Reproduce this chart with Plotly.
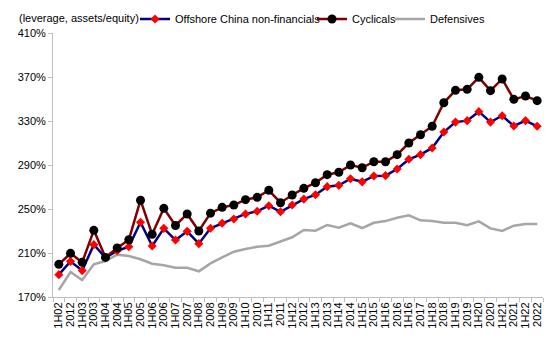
import plotly.graph_objects as go

labels = ["1H02","2012","1H03","2003","1H04","2004","1H05","2005","1H06","2006",
          "1H07","2007","1H08","2008","1H09","2009","1H10","2010","1H11","2011",
          "1H12","2012","1H13","2013","1H14","2014","1H15","2015","1H16","2016",
          "1H16","2017","1H18","2018","1H19","2019","1H20","2020","1H21","2021",
          "1H22","2022"]

offshore = [190.3, 202.4, 194.0, 217.6, 205.7, 212.0, 215.7, 238.0, 216.4, 232.4,
            221.8, 229.7, 218.5, 232.5, 237.0, 240.9, 245.5, 247.9, 253.0, 247.5,
            253.6, 259.0, 263.0, 270.3, 271.5, 277.5, 274.7, 280.0, 280.3, 286.4,
            295.2, 299.4, 305.5, 320.0, 329.0, 330.3, 338.5, 329.0, 334.8, 325.5,
            330.3, 325.2]

cyclicals = [199.7, 209.7, 201.5, 230.6, 206.0, 214.5, 222.0, 258.0, 227.0, 250.6,
             235.0, 245.5, 230.0, 246.2, 251.5, 253.6, 258.5, 260.6, 267.0, 255.7,
             262.7, 268.8, 273.9, 281.2, 283.4, 290.0, 287.5, 293.0, 293.0, 299.4,
             310.0, 317.5, 325.2, 346.6, 357.9, 358.8, 369.7, 357.6, 368.2, 349.7,
             352.7, 348.5]

defensives = [176.4, 192.7, 185.5, 199.7, 202.7, 208.5, 207.3, 204.3, 200.3, 198.8,
              196.6, 196.6, 193.4, 200.5, 206.0, 211.2, 213.6, 215.7, 216.6, 220.3,
              224.3, 231.0, 230.3, 235.5, 233.0, 237.0, 232.7, 237.5, 239.0, 242.0,
              244.2, 239.7, 239.0, 237.5, 237.5, 235.2, 238.8, 232.4, 230.0, 234.8,
              236.4, 236.4]

y_ticks = [170, 210, 250, 290, 330, 370, 410]
y_ticktext = [f"{v}%" for v in y_ticks]

x = list(range(len(labels)))
FONT = "Liberation Sans, Arial, sans-serif"

fig = go.Figure()
fig.add_trace(go.Scatter(
    x=x, y=defensives, name="Defensives", mode="lines",
    line=dict(color="#A6A6A6", width=2.5), legend="legend3"))
fig.add_trace(go.Scatter(
    x=x, y=offshore, name="Offshore China non-financials", mode="lines+markers",
    line=dict(color="#000080", width=2.5),
    marker=dict(symbol="diamond", size=7, color="#FF0000"), legend="legend"))
fig.add_trace(go.Scatter(
    x=x, y=cyclicals, name="Cyclicals", mode="lines+markers",
    line=dict(color="#800000", width=2.5),
    marker=dict(symbol="circle", size=9, color="#000000"), legend="legend2"))

leg_common = dict(orientation="h", xref="container", yref="container",
                  xanchor="left", yanchor="middle", bgcolor="rgba(0,0,0,0)",
                  font=dict(family=FONT, size=11, color="#000000"),
                  itemwidth=30)
fig.update_layout(
    legend=dict(x=135/550, y=1 - 19/356, **leg_common),
    legend2=dict(x=312/550, y=1 - 19/356, **leg_common),
    legend3=dict(x=390/550, y=1 - 19/356, **leg_common),
)

fig.add_annotation(text="(leverage, assets/equity)", xref="paper", yref="paper",
                   x=-36/490, y=1 + 15/264, xanchor="left", yanchor="middle",
                   showarrow=False, font=dict(family=FONT, size=11, color="#000000"))

fig.update_layout(
    width=550, height=356,
    margin=dict(l=53, r=7, t=33, b=59, autoexpand=False),
    paper_bgcolor="white", plot_bgcolor="white",
    font=dict(family=FONT, size=11, color="#000000"),
    showlegend=True,
    xaxis=dict(range=[-0.5, len(labels) - 0.5], tickmode="array", tickvals=x,
               ticktext=labels, tickangle=-90, ticks="", showgrid=False,
               zeroline=False, showline=True, linecolor="#BFBFBF", linewidth=1,
               automargin=False,
               tickfont=dict(family=FONT, size=11, color="#000000"),
               minor=dict(tick0=-0.5, dtick=1, ticks="outside", ticklen=4,
                          tickcolor="#BFBFBF", showgrid=False)),
    yaxis=dict(range=[170, 410], tickmode="array", tickvals=y_ticks,
               ticktext=y_ticktext, ticks="outside", ticklen=4, tickcolor="#BFBFBF",
               showgrid=False, zeroline=False, showline=True, automargin=False,
               linecolor="#BFBFBF", linewidth=1,
               tickfont=dict(family=FONT, size=11, color="#000000")),
)

fig.write_html("out.html", config={"displayModeBar": False},
               post_script="document.body.style.margin='0';document.body.style.padding='0';")
